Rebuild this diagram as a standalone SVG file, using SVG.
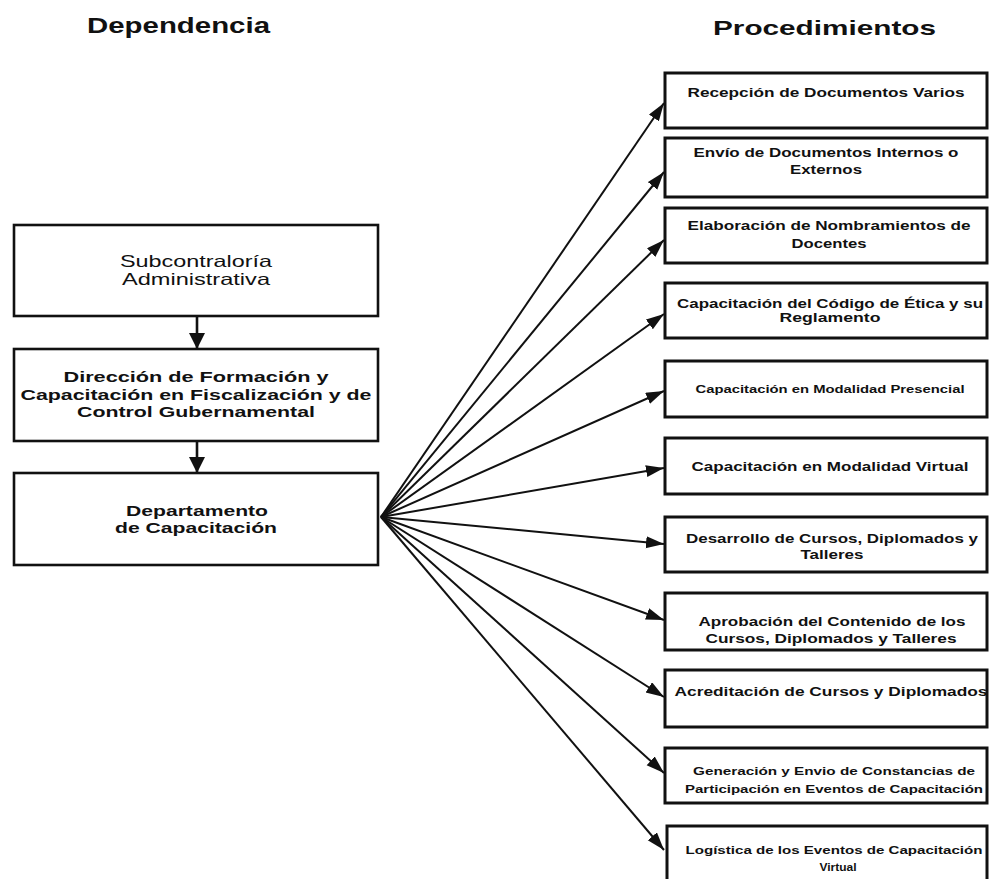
<svg xmlns="http://www.w3.org/2000/svg" width="993" height="879" viewBox="0 0 993 879">
  <style>
    .box { fill: #ffffff; stroke: #111111; stroke-width: 2.6; }
    .rbox { fill: #ffffff; stroke: #111111; stroke-width: 3; }
    .title { font-family: "Liberation Sans", Arial, sans-serif; font-weight: bold; fill: #111111; }
    .t { font-family: "Liberation Sans", Arial, sans-serif; fill: #111111; text-anchor: middle; }
    .b { font-weight: bold; }
    .edge { stroke: #111111; stroke-width: 2; fill: none; }
    .down { stroke: #111111; stroke-width: 2.6; fill: none; }
  </style>
  <defs>
    <marker id="head" markerUnits="userSpaceOnUse" markerWidth="20" markerHeight="14" refX="18" refY="6" orient="auto">
      <path d="M0,0 L18,6 L0,12 z" fill="#111111"/>
    </marker>
    <marker id="headDown" markerUnits="userSpaceOnUse" markerWidth="18" markerHeight="18" refX="16" refY="8" orient="auto">
      <path d="M0,0 L16,8 L0,16 z" fill="#111111"/>
    </marker>
  </defs>

  <rect width="993" height="879" fill="#ffffff"/>

  <!-- column headings -->
  <text class="title" x="87" y="33" font-size="22" textLength="183" lengthAdjust="spacingAndGlyphs">Dependencia</text>
  <text class="title" x="713" y="35" font-size="21" textLength="223" lengthAdjust="spacingAndGlyphs">Procedimientos</text>

  <!-- connectors -->
  <g id="connectors">
    <line class="down" x1="197" y1="317" x2="197" y2="349" marker-end="url(#headDown)"/>
    <line class="down" x1="197" y1="441" x2="197" y2="473" marker-end="url(#headDown)"/>
    <line class="edge" x1="381" y1="517" x2="664" y2="103" marker-end="url(#head)"/>
    <line class="edge" x1="381" y1="517" x2="664" y2="172" marker-end="url(#head)"/>
    <line class="edge" x1="381" y1="517" x2="664" y2="240" marker-end="url(#head)"/>
    <line class="edge" x1="381" y1="517" x2="664" y2="314" marker-end="url(#head)"/>
    <line class="edge" x1="381" y1="517" x2="664" y2="391" marker-end="url(#head)"/>
    <line class="edge" x1="381" y1="517" x2="664" y2="468" marker-end="url(#head)"/>
    <line class="edge" x1="381" y1="517" x2="664" y2="544" marker-end="url(#head)"/>
    <line class="edge" x1="381" y1="517" x2="664" y2="620" marker-end="url(#head)"/>
    <line class="edge" x1="381" y1="517" x2="664" y2="697" marker-end="url(#head)"/>
    <line class="edge" x1="381" y1="517" x2="664" y2="773" marker-end="url(#head)"/>
    <line class="edge" x1="381" y1="517" x2="664" y2="850" marker-end="url(#head)"/>
  </g>

  <!-- left column -->
  <g id="subcontraloria">
    <rect class="box" x="14" y="225" width="364" height="91"/>
    <text class="t" x="196" y="267" font-size="16.5" textLength="152" lengthAdjust="spacingAndGlyphs">Subcontraloría</text>
    <text class="t" x="196" y="285" font-size="16.5" textLength="148" lengthAdjust="spacingAndGlyphs">Administrativa</text>
  </g>
  <g id="direccion">
    <rect class="box" x="14" y="349" width="364" height="92"/>
    <text class="t b" x="196" y="382" font-size="15" textLength="265" lengthAdjust="spacingAndGlyphs">Dirección de  Formación y</text>
    <text class="t b" x="196" y="400" font-size="15" textLength="351" lengthAdjust="spacingAndGlyphs">Capacitación en Fiscalización y de</text>
    <text class="t b" x="196" y="417" font-size="15" textLength="238" lengthAdjust="spacingAndGlyphs">Control Gubernamental</text>
  </g>
  <g id="departamento">
    <rect class="box" x="14" y="473" width="364" height="92"/>
    <text class="t b" x="197" y="516" font-size="15" textLength="142" lengthAdjust="spacingAndGlyphs">Departamento</text>
    <text class="t b" x="196" y="533" font-size="15" textLength="162" lengthAdjust="spacingAndGlyphs">de Capacitación</text>
  </g>

  <!-- right column -->
  <g id="recepcion">
    <rect class="rbox" x="665" y="73" width="322" height="55"/>
    <text class="t b" x="826" y="97" font-size="12" textLength="277" lengthAdjust="spacingAndGlyphs">Recepción de Documentos Varios</text>
  </g>
  <g id="envio-documentos">
    <rect class="rbox" x="665" y="138" width="322" height="59"/>
    <text class="t b" x="826" y="157" font-size="12" textLength="265" lengthAdjust="spacingAndGlyphs">Envío de Documentos Internos o</text>
    <text class="t b" x="826" y="174" font-size="12" textLength="72" lengthAdjust="spacingAndGlyphs">Externos</text>
  </g>
  <g id="nombramientos">
    <rect class="rbox" x="665" y="208" width="322" height="55"/>
    <text class="t b" x="829" y="230" font-size="12" textLength="283" lengthAdjust="spacingAndGlyphs">Elaboración de Nombramientos de</text>
    <text class="t b" x="829" y="248" font-size="12" textLength="75" lengthAdjust="spacingAndGlyphs">Docentes</text>
  </g>
  <g id="codigo-etica">
    <rect class="rbox" x="665" y="283" width="322" height="55"/>
    <text class="t b" x="830" y="308" font-size="12" textLength="306" lengthAdjust="spacingAndGlyphs">Capacitación del Código de Ética y su</text>
    <text class="t b" x="830" y="322" font-size="12" textLength="101" lengthAdjust="spacingAndGlyphs">Reglamento</text>
  </g>
  <g id="presencial">
    <rect class="rbox" x="665" y="361" width="322" height="56"/>
    <text class="t b" x="830" y="393" font-size="10.5" textLength="269" lengthAdjust="spacingAndGlyphs">Capacitación en Modalidad Presencial</text>
  </g>
  <g id="virtual">
    <rect class="rbox" x="665" y="438" width="322" height="56"/>
    <text class="t b" x="830" y="471" font-size="12" textLength="277" lengthAdjust="spacingAndGlyphs">Capacitación en Modalidad Virtual</text>
  </g>
  <g id="desarrollo">
    <rect class="rbox" x="665" y="517" width="322" height="55"/>
    <text class="t b" x="832" y="543" font-size="12" textLength="292" lengthAdjust="spacingAndGlyphs">Desarrollo de Cursos, Diplomados y</text>
    <text class="t b" x="832" y="559" font-size="12" textLength="63" lengthAdjust="spacingAndGlyphs">Talleres</text>
  </g>
  <g id="aprobacion">
    <rect class="rbox" x="665" y="593" width="322" height="57"/>
    <text class="t b" x="832" y="626" font-size="12" textLength="267" lengthAdjust="spacingAndGlyphs">Aprobación del Contenido de los</text>
    <text class="t b" x="831" y="643" font-size="12" textLength="251" lengthAdjust="spacingAndGlyphs">Cursos, Diplomados y Talleres</text>
  </g>
  <g id="acreditacion">
    <rect class="rbox" x="665" y="670" width="322" height="57"/>
    <text class="t b" x="831" y="696" font-size="12" textLength="313" lengthAdjust="spacingAndGlyphs">Acreditación de Cursos y Diplomados</text>
  </g>
  <g id="constancias">
    <rect class="rbox" x="665" y="748" width="322" height="55"/>
    <text class="t b" x="834" y="775" font-size="10" textLength="282" lengthAdjust="spacingAndGlyphs">Generación y Envio de Constancias de</text>
    <text class="t b" x="834" y="793" font-size="10" textLength="298" lengthAdjust="spacingAndGlyphs">Participación en Eventos de Capacitación</text>
  </g>
  <g id="logistica">
    <rect class="rbox" x="667" y="826" width="320" height="60"/>
    <text class="t b" x="834" y="854" font-size="10" textLength="297" lengthAdjust="spacingAndGlyphs">Logística de los Eventos de Capacitación</text>
    <text class="t b" x="838" y="871" font-size="10" textLength="37" lengthAdjust="spacingAndGlyphs">Virtual</text>
  </g>
</svg>
